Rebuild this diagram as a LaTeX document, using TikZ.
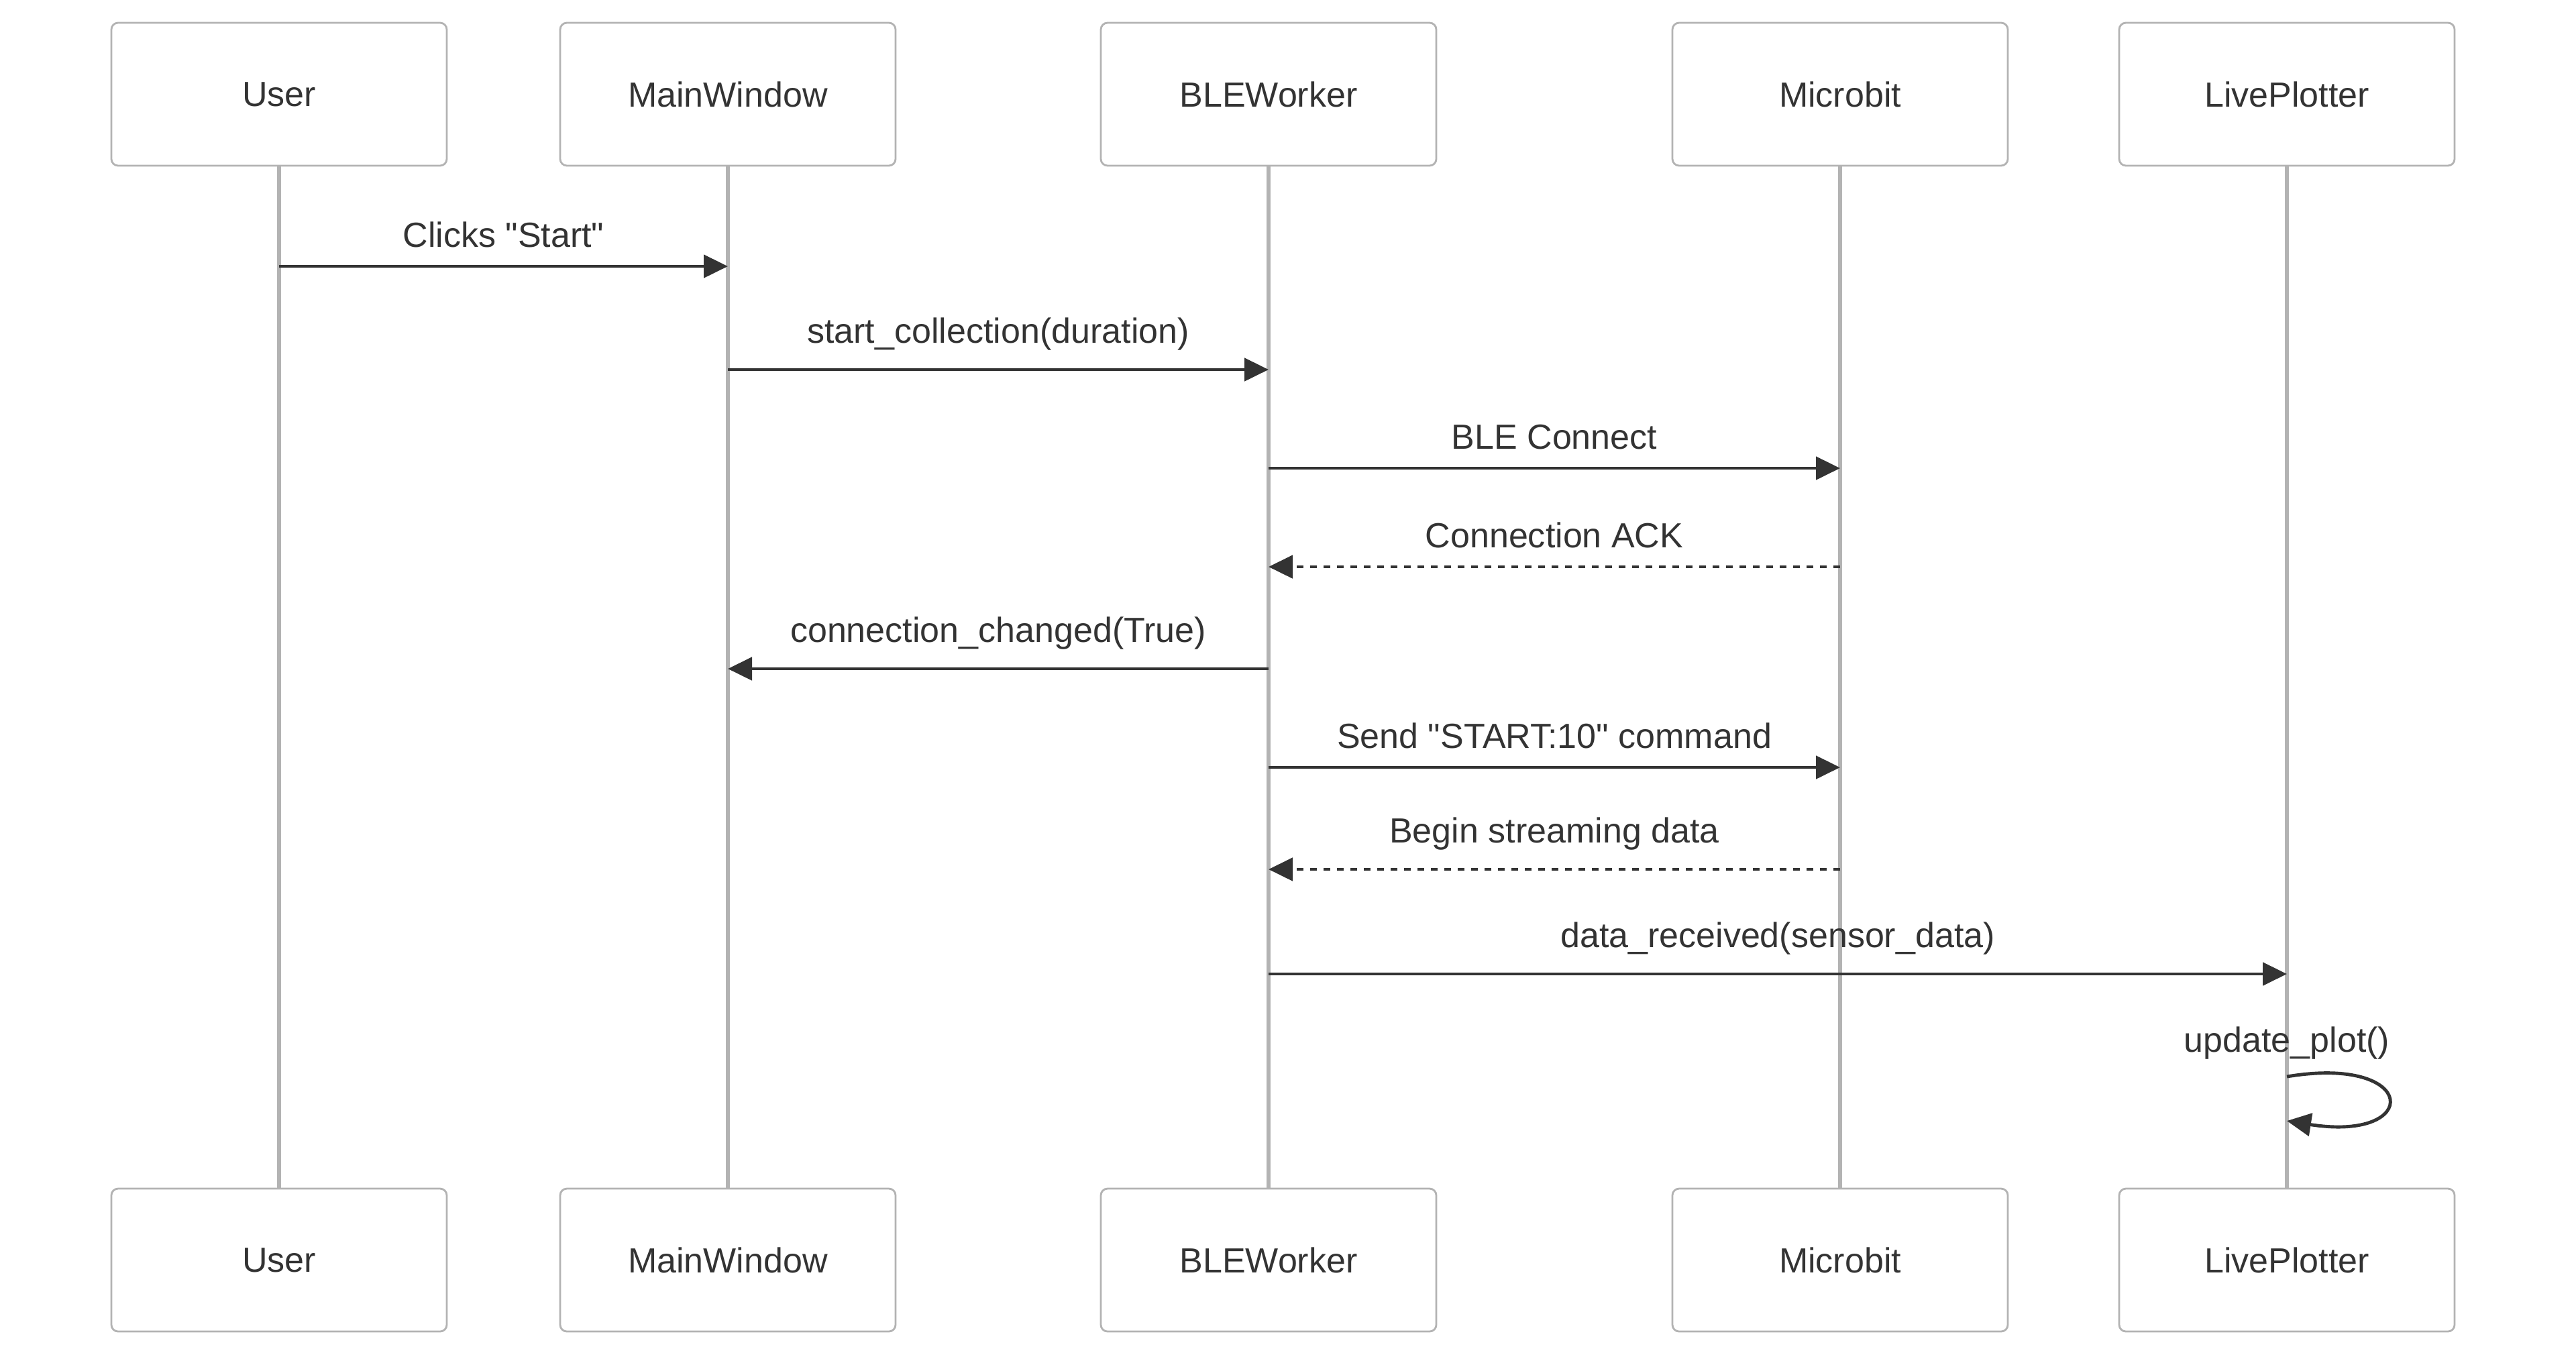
\documentclass[tikz,border=0pt]{standalone}
\usepackage{fontspec}
\setmainfont{Liberation Sans}[Ligatures=TeXOff]
\usetikzlibrary{arrows.meta}
\definecolor{ink}{HTML}{333333}
\definecolor{rule}{HTML}{B3B3B3}
\tikzset{
    actor/.style={draw=rule, line width=0.8pt, rounded corners=0.1cm, fill=white,
        minimum width=5cm, minimum height=2.13cm, text=ink},
    life/.style={draw=rule, line width=1.6pt},
    msg/.style={draw=ink, line width=1.4pt, -{Triangle[length=0.36cm, width=0.34cm]}},
    reply/.style={msg, dash pattern=on 0.1cm off 0.1cm},
    lbl/.style={anchor=south, inner sep=0pt, yshift=0.26cm, text=ink},
}
\begin{document}
\begin{tikzpicture}[font=\fontsize{14.8}{18}\selectfont]
    \useasboundingbox (0,0) rectangle (38.4,-20.31);
    \foreach \name/\x in {User/4.16, MainWindow/10.85, BLEWorker/18.91, Microbit/27.43, LivePlotter/34.09} {
        \draw[life] (\x, -2.47) -- (\x, -17.71);
        \node[actor] (\name-top) at (\x, -1.405) {\name};
        \node[actor] (\name-bot) at (\x, -18.785) {\name};
        \foreach \r/\y in {1/3.97, 2/5.51, 3/6.98, 4/8.45, 5/9.97, 6/11.44, 7/12.96, 8/14.52, 9/16.05, 10/16.71} {
            \coordinate (\name\r) at (\x, -\y);
        }
    };
    \draw[msg] (User1) -- node[lbl] {Clicks "Start"} (MainWindow1);
    \draw[msg] (MainWindow2) -- node[lbl] {start\_collection(duration)} (BLEWorker2);
    \draw[msg] (BLEWorker3) -- node[lbl] {BLE Connect} (Microbit3);
    \draw[reply] (Microbit4) -- node[lbl] {Connection ACK} (BLEWorker4);
    \draw[msg] (BLEWorker5) -- node[lbl] {connection\_changed(True)} (MainWindow5);
    \draw[msg] (BLEWorker6) -- node[lbl] {Send "START:10" command} (Microbit6);
    \draw[reply] (Microbit7) -- node[lbl] {Begin streaming data} (BLEWorker7);
    \draw[msg] (BLEWorker8) -- node[lbl] {data\_received(sensor\_data)} (LivePlotter8);
    \draw[msg] (LivePlotter9) node[lbl, anchor=base, yshift=0.11cm] {update\_plot()}
        .. controls +(1.97, 0.33) and +(2.02, -0.32) .. (LivePlotter10);
\end{tikzpicture}
\end{document}
